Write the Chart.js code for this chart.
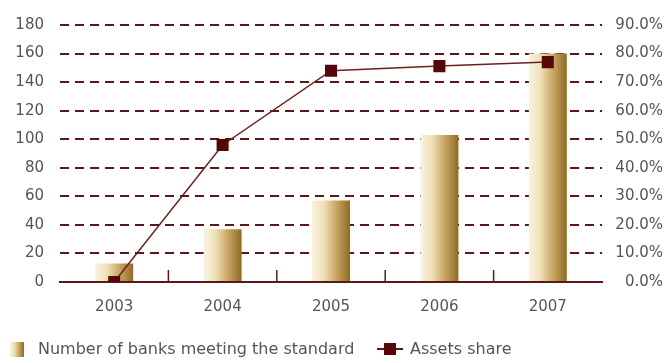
<!DOCTYPE html>
<html>
<head>
<meta charset="utf-8">
<script src="https://cdn.jsdelivr.net/npm/chart.js@4.4.1/dist/chart.umd.min.js"></script>
<style>
  html, body { margin: 0; padding: 0; background: #fff; }
  #wrap { position: relative; width: 668px; height: 363px; }
  #legend { position: absolute; left: 0; top: 340px; height: 18px; font: 16px "DejaVu Sans", sans-serif; color: #555; }
  #legend span { position: absolute; top: 0; white-space: nowrap; line-height: 18px; }
  #legend canvas { position: absolute; }
</style>
</head>
<body>
<div id="wrap">
  <canvas id="myChart" width="668" height="363"></canvas>
  <div id="legend"></div>
</div>
<script>
// chart data
var years = ["2003", "2004", "2005", "2006", "2007"];
var banksMeeting = [13, 37, 57, 103, 160];
var assetsShare = [0, 48, 74, 75.6, 77];
var leftTicks = [0, 20, 40, 60, 80, 100, 120, 140, 160, 180];
var rightTicks = [0, 10, 20, 30, 40, 50, 60, 70, 80, 90];
var seriesNames = ["Number of banks meeting the standard", "Assets share"];

var maroon = "#5e1616";
var textGrey = "#555555";

Chart.defaults.font.family = "'DejaVu Sans', sans-serif";
Chart.defaults.font.size = 15;
Chart.defaults.color = textGrey;

// gold gradient for one bar, left light -> right dark
function goldGradient(ctx, x0, x1) {
  var g = ctx.createLinearGradient(x0, 0, x1, 0);
  g.addColorStop(0, "#faf4e0");
  g.addColorStop(0.3, "#efe1b6");
  g.addColorStop(0.65, "#c8a461");
  g.addColorStop(1, "#8e6a27");
  return g;
}

function barColor(context) {
  var chart = context.chart;
  var x = chart.scales && chart.scales.x;
  if (!chart.chartArea || !x || context.dataIndex === undefined) return "#c8a461";
  var cx = x.getPixelForValue(context.dataIndex);
  var w = (x.width / years.length) * 0.35;
  return goldGradient(chart.ctx, cx - w / 2, cx + w / 2);
}

// tick marks between categories, pointing up from the axis line
var upTicks = {
  id: "upTicks",
  afterDatasetsDraw: function (chart) {
    var x = chart.scales.x;
    var bottom = chart.chartArea.bottom;
    var ctx = chart.ctx;
    ctx.save();
    ctx.strokeStyle = maroon;
    ctx.lineWidth = 1.5;
    for (var i = 1; i < years.length; i++) {
      var px = (x.getPixelForValue(i - 1) + x.getPixelForValue(i)) / 2;
      ctx.beginPath();
      ctx.moveTo(px, bottom);
      ctx.lineTo(px, bottom - 12);
      ctx.stroke();
    }
    ctx.restore();
  },
};

var chart = new Chart("myChart", {
  type: "bar",
  data: {
    labels: years,
    datasets: [
      {
        type: "line",
        label: seriesNames[1],
        data: assetsShare,
        yAxisID: "y1",
        borderColor: "#6e2020",
        borderWidth: 1.5,
        pointStyle: "rect",
        pointRadius: 8.5,
        pointBackgroundColor: "#560808",
        pointBorderColor: "#560808",
        pointBorderWidth: 0,
        tension: 0,
        order: 0,
      },
      {
        label: seriesNames[0],
        data: banksMeeting,
        yAxisID: "y",
        backgroundColor: barColor,
        barPercentage: 0.35,
        categoryPercentage: 1,
        order: 1,
      },
    ],
  },
  options: {
    responsive: false,
    animation: false,
    layout: { padding: { top: 17, right: 5, left: 0, bottom: 31 } },
    plugins: {
      tooltip: { enabled: false },
      legend: { display: false },
    },
    scales: {
      x: {
        grid: { display: false, drawTicks: false },
        border: { display: true, color: maroon, width: 2 },
        ticks: { padding: 16, color: textGrey },
      },
      y: {
        position: "left",
        min: 0,
        max: 180,
        afterBuildTicks: function (axis) {
          axis.ticks = leftTicks.map(function (v) { return { value: v }; });
        },
        afterFit: function (axis) { axis.width = 60; },
        grid: {
          drawTicks: false,
          lineWidth: 2,
          color: function (c) { return c.tick && c.tick.value === 0 ? "transparent" : maroon; },
        },
        border: { display: false, dash: [9, 6] },
        ticks: { padding: 16, color: textGrey },
      },
      y1: {
        position: "right",
        min: 0,
        max: 90,
        afterBuildTicks: function (axis) {
          axis.ticks = rightTicks.map(function (v) { return { value: v }; });
        },
        afterFit: function (axis) { axis.width = 61; },
        grid: { display: false, drawTicks: false },
        border: { display: false },
        ticks: {
          crossAlign: "far",
          color: textGrey,
          callback: function (v) { return v.toFixed(1) + "%"; },
        },
      },
    },
  },
  plugins: [upTicks],
});

// legend under the chart
var legend = document.getElementById("legend");
function addIcon(left, w, h, draw) {
  var c = document.createElement("canvas");
  c.width = w; c.height = h;
  c.style.left = left + "px";
  c.style.top = (9 - h / 2) + "px";
  draw(c.getContext("2d"));
  legend.appendChild(c);
}
function addText(left, text) {
  var s = document.createElement("span");
  s.style.left = left + "px";
  s.textContent = text;
  legend.appendChild(s);
}
addIcon(10, 14, 15, function (cx) {
  cx.fillStyle = goldGradient(cx, 0, 14);
  cx.fillRect(0, 0, 14, 15);
});
addText(38, seriesNames[0]);
addIcon(377, 26, 14, function (cx) {
  cx.strokeStyle = maroon;
  cx.lineWidth = 2;
  cx.beginPath(); cx.moveTo(0, 7); cx.lineTo(26, 7); cx.stroke();
  cx.fillStyle = "#560808";
  cx.fillRect(7, 1, 12, 12);
});
addText(410, seriesNames[1]);
</script>
</body>
</html>
